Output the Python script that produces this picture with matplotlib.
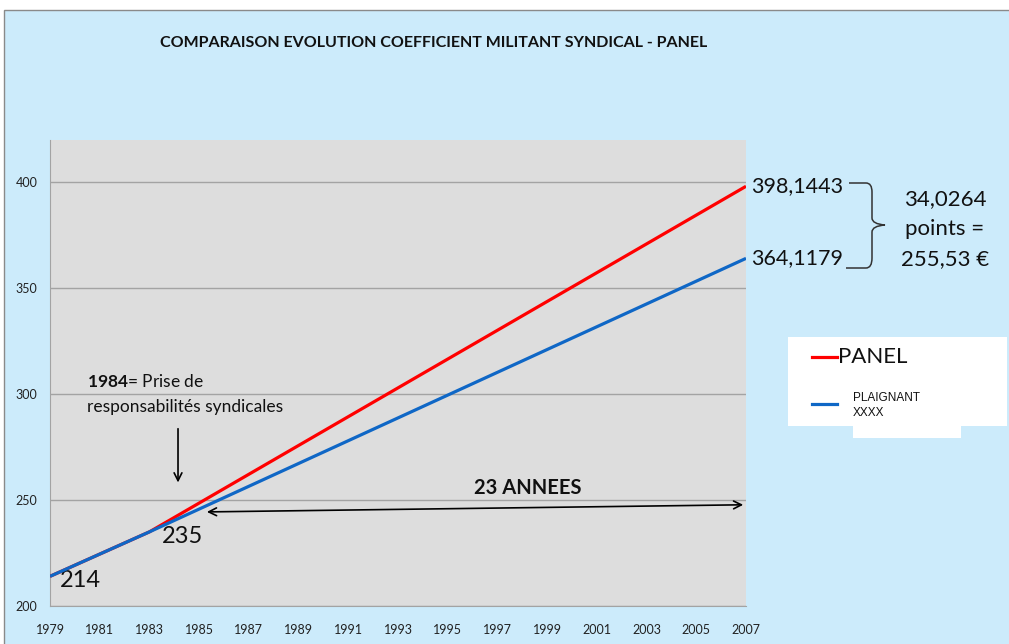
import matplotlib
matplotlib.use("Agg")
import matplotlib.pyplot as plt
from matplotlib.patches import Rectangle, PathPatch
from matplotlib.path import Path
from matplotlib.lines import Line2D
from matplotlib.transforms import Affine2D

plt.rcParams['font.family'] = ['Lato', 'DejaVu Sans']
plt.rcParams['mathtext.fontset'] = 'custom'
plt.rcParams['mathtext.rm'] = 'Lato'
plt.rcParams['mathtext.bf'] = 'Lato:bold'

# data
years = [1979, 1983, 2007]
panel = [214, 235, 398.1443]
plaignant = [214, 235, 364.1179]
xticks = list(range(1979, 2008, 2))
yticks = [200, 250, 300, 350, 400]
ecart = "34,0264\npoints =\n255,53 €"

W, H = 1009, 644
fig = plt.figure(figsize=(W / 100, H / 100), dpi=100)
fig.patch.set_facecolor('white')

# pixel transform (origin top-left)
px = Affine2D().scale(1 / W, -1 / H).translate(0, 1) + fig.transFigure

bg = '#CCEBFB'
fig.patches.append(Rectangle((4, 10), W, H, transform=px, facecolor=bg,
                             edgecolor='#8A8A8A', lw=1, zorder=-5))

ax = fig.add_axes([50 / W, 1 - 606 / H, 696 / W, 466 / H])
ax.set_facecolor('#DDDDDD')
ax.plot(years, panel, color='#FF0000', lw=2.3, solid_capstyle='butt', zorder=3)
ax.plot(years, plaignant, color='#0F67C6', lw=2.3, solid_capstyle='butt', zorder=4)
ax.set_xlim(1979, 2007)
ax.set_ylim(200, 420)
ax.set_xticks(xticks)
ax.set_xticklabels([str(y) for y in xticks])
ax.set_yticks(yticks)
ax.tick_params(length=0, labelsize=9, colors='#222222')
ax.tick_params(axis='x', pad=13)
ax.tick_params(axis='y', pad=9)
ax.grid(axis='y', color='#A3A3A3', lw=1)
ax.set_axisbelow(True)
for s in ['top', 'right']:
    ax.spines[s].set_visible(False)
for s in ['left', 'bottom']:
    ax.spines[s].set_color('#A3A3A3')

# title
fig.text(434 / W, 1 - 43 / H, 'COMPARAISON EVOLUTION COEFFICIENT MILITANT SYNDICAL - PANEL',
         ha='center', va='center', fontsize=11.5, fontweight='bold', color='#111111')

# annotations
ax.text(1979.4, 217, '214', fontsize=17, va='top', ha='left', color='#111111')
ax.text(1983.5, 238, '235', fontsize=17, va='top', ha='left', color='#111111')
ax.text(1980.5, 302, r'$\mathbf{1984}$= Prise de', fontsize=12.5, va='bottom', color='#111111')
ax.text(1980.5, 297.5, 'responsabilités syndicales', fontsize=12.5, va='top', color='#111111')
ax.annotate('', xy=(1984.15, 257), xytext=(1984.15, 285),
            arrowprops=dict(arrowstyle='->', color='black', lw=1.2, mutation_scale=14))
ax.annotate('', xy=(1985.2, 244.4), xytext=(2007, 247.8),
            arrowprops=dict(arrowstyle='<->', color='black', lw=1.2, mutation_scale=14))
ax.text(1998.2, 251, '23 ANNEES', fontsize=14.5, fontweight='bold', ha='center', va='bottom',
        color='#111111')

ax.annotate(f"{panel[-1]:.4f}".replace('.', ','), xy=(years[-1], panel[-1]),
            xytext=(4, 0), textcoords='offset points', annotation_clip=False,
            fontsize=15.5, va='center', ha='left', color='#111111')
ax.annotate(f"{plaignant[-1]:.4f}".replace('.', ','), xy=(years[-1], plaignant[-1]),
            xytext=(4, 0), textcoords='offset points', annotation_clip=False,
            fontsize=15.5, va='center', ha='left', color='#111111')

# brace
verts = [(849, 183), (866, 183), (872, 183), (872, 192), (872, 218), (872, 224),
         (885, 225), (872, 226), (872, 232), (872, 258), (872, 268), (866, 268), (846, 268)]
codes = [Path.MOVETO, Path.LINETO, Path.CURVE3, Path.CURVE3, Path.LINETO, Path.CURVE3,
         Path.CURVE3, Path.CURVE3, Path.CURVE3, Path.LINETO, Path.CURVE3, Path.CURVE3,
         Path.LINETO]
fig.patches.append(PathPatch(Path(verts, codes), transform=px, facecolor='none',
                             edgecolor='#333333', lw=1.1))
fig.text(945 / W, 1 - 229 / H, ecart, ha='center', va='center', fontsize=16,
         linespacing=1.6, color='#111111')

# legend box
fig.patches.append(Rectangle((788, 337), 219, 89, transform=px, facecolor='white',
                             edgecolor='none', zorder=1))
fig.patches.append(Rectangle((853, 426), 108, 12, transform=px, facecolor='white',
                             edgecolor='none', zorder=1))
fig.lines.append(Line2D([812, 837], [357, 357], transform=px, color='#FF0000', lw=2.3))
fig.lines.append(Line2D([812, 837], [404, 404], transform=px, color='#0F67C6', lw=2.3))
fig.text(838 / W, 1 - 357 / H, 'PANEL', fontsize=16, va='center', ha='left', color='#111111')
fig.text(853 / W, 1 - 398 / H, 'PLAIGNANT', fontsize=8.5, va='center', ha='left',
         family='Liberation Sans', color='#111111')
fig.text(853 / W, 1 - 413 / H, 'XXXX', fontsize=8.5, va='center', ha='left',
         family='Liberation Sans', color='#111111')

fig.savefig('out.png', dpi=100, facecolor=fig.get_facecolor())
